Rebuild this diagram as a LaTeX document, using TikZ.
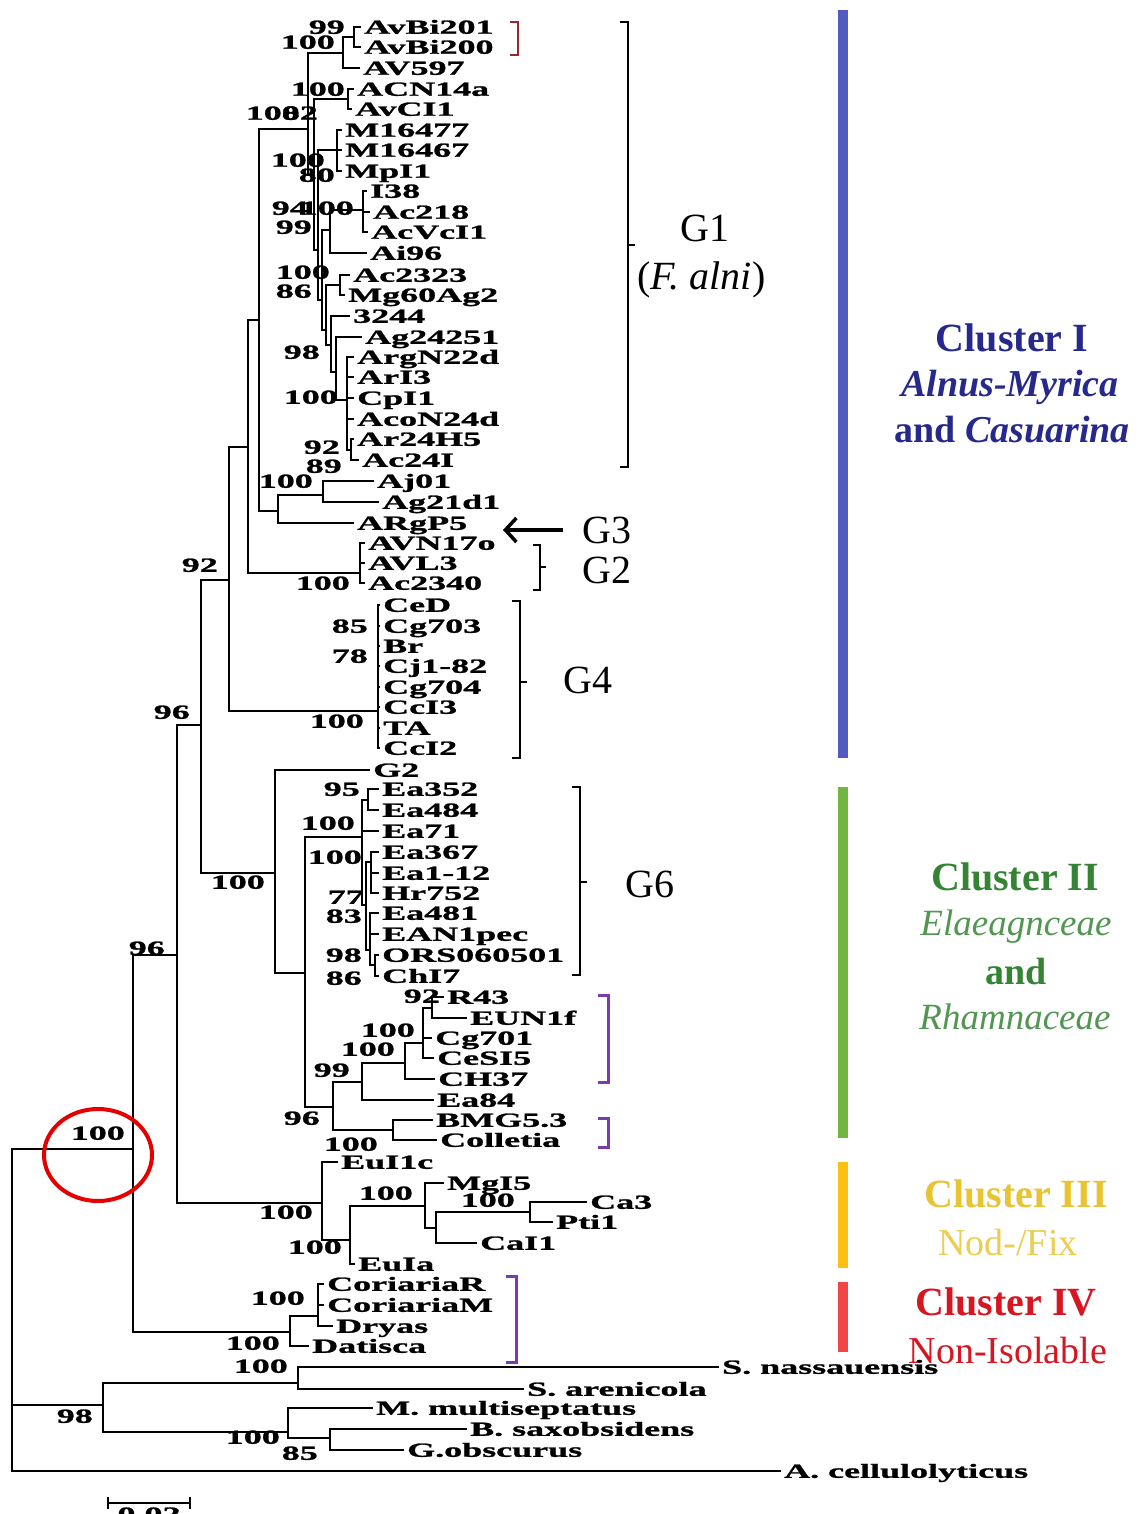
\documentclass[tikz,border=0pt]{standalone}
\usepackage{fontspec}
\setmainfont{Liberation Serif}
\newfontfamily\treefont[FakeStretch=1.8, BoldFeatures={FakeBold=1.3}]{Liberation Serif}
\usetikzlibrary{arrows.meta}

\definecolor{cIbar}{RGB}{82,92,192}
\definecolor{cItxt}{RGB}{38,40,140}
\definecolor{cIIbar}{RGB}{112,182,64}
\definecolor{cIItxt}{RGB}{52,132,52}
\definecolor{cIIIbar}{RGB}{250,192,20}
\definecolor{cIIItxt}{RGB}{232,196,50}
\definecolor{cIVbar}{RGB}{240,70,70}
\definecolor{cIVtxt}{RGB}{214,22,32}
\definecolor{brpurple}{RGB}{122,60,172}
\definecolor{brred}{RGB}{150,40,50}

\tikzset{
  branch/.style={line width=1.8pt},
  leaf/.style={anchor=west, inner xsep=3pt, inner ysep=0pt, text height=13.5pt, text depth=0pt,
    font=\treefont\bfseries\fontsize{20}{22}\selectfont},
  boot/.style={anchor=east, inner sep=0pt, text height=13.5pt, text depth=0pt,
    font=\treefont\bfseries\fontsize{20}{22}\selectfont},
  glabel/.style={inner sep=0pt, font=\fontsize{40}{44}\selectfont},
  clhead/.style={inner sep=0pt, font=\bfseries\fontsize{40}{44}\selectfont},
  clsub/.style={inner sep=0pt, font=\fontsize{38}{42}\selectfont},
  bracket/.style={line width=2.5pt},
  cbar/.style={line width=10pt},
}
\newcommand\tbr[2]{\draw[branch] (#1) |- (#2);}
\newcommand\tlf[2]{\draw[branch] (#1) |- (#2.west);}

\begin{document}
\begin{tikzpicture}[x=1pt,y=-1pt]
\useasboundingbox[fill=white] (0,0) rectangle (1137,1514);

% ---------- internal nodes ----------
\coordinate (r0) at (12,1300);
\coordinate (ing) at (133,1149);
\coordinate (og) at (103,1405);
\coordinate (ogS) at (298,1383);
\coordinate (ogM) at (288,1432);
\coordinate (ogB) at (330,1438);
\coordinate (n177) at (177,955);
\coordinate (n201) at (201,725);
\coordinate (clIII) at (322,1203);
\coordinate (c3a) at (350,1240);
\coordinate (c3b) at (425,1206);
\coordinate (c3c) at (436,1228);
\coordinate (c3d) at (530,1212);
\coordinate (clIV) at (290,1332);
\coordinate (ciA) at (318,1316);
\coordinate (n229) at (229,580);
\coordinate (nB) at (248,447);
\coordinate (nC) at (259,320);
\coordinate (nD) at (278,511);
\coordinate (nAj) at (323,495);
\coordinate (g2) at (360,573);
\coordinate (g4) at (378,711);
\coordinate (g1) at (308,129);
\coordinate (av) at (343,53);
\coordinate (avb) at (354,37);
\coordinate (g1b) at (314,175);
\coordinate (acn) at (348,99);
\coordinate (g1c) at (318,250);
\coordinate (mp) at (337,150);
\coordinate (g1d) at (322,300);
\coordinate (i38) at (330,230);
\coordinate (i38b) at (363,210);
\coordinate (g1e) at (326,330);
\coordinate (ac23) at (340,285);
\coordinate (g1f) at (331,345);
\coordinate (g1g) at (336,372);
\coordinate (g1h) at (347,400);
\coordinate (g1i) at (351,450);
\coordinate (clII) at (275,873);
\coordinate (ea0) at (305,973);
\coordinate (g6) at (362,837);
\coordinate (ea1) at (368,800);
\coordinate (ea2) at (366,905);
\coordinate (ea3) at (371,862);
\coordinate (ea4) at (370,950);
\coordinate (ea5) at (375,965);
\coordinate (n96) at (333,1107);
\coordinate (n99) at (362,1082);
\coordinate (n100c) at (405,1063);
\coordinate (n100d) at (423,1043);
\coordinate (nR) at (432,1008);
\coordinate (n100b) at (393,1130);

% ---------- leaves ----------
\node[leaf] (lAvBi201) at (361,27) {AvBi201};
\node[leaf] (lAvBi200) at (361,47) {AvBi200};
\node[leaf] (lAV597) at (360,68) {AV597};
\node[leaf] (lACN14a) at (354,89) {ACN14a};
\node[leaf] (lAvCI1) at (352,109) {AvCI1};
\node[leaf] (lM16477) at (342,130) {M16477};
\node[leaf] (lM16467) at (342,150) {M16467};
\node[leaf] (lMpI1) at (342,171) {MpI1};
\node[leaf] (lI38) at (367,191) {I38};
\node[leaf] (lAc218) at (370,212) {Ac218};
\node[leaf] (lAcVcI1) at (368,232) {AcVcI1};
\node[leaf] (lAi96) at (367,253) {Ai96};
\node[leaf] (lAc2323) at (350,275) {Ac2323};
\node[leaf] (lMg60Ag2) at (345,295) {Mg60Ag2};
\node[leaf] (l3244) at (350,316) {3244};
\node[leaf] (lAg24251) at (362,337) {Ag24251};
\node[leaf] (lArgN22d) at (354,357) {ArgN22d};
\node[leaf] (lArI3) at (354,377) {ArI3};
\node[leaf] (lCpI1) at (354,398) {CpI1};
\node[leaf] (lAcoN24d) at (354,419) {AcoN24d};
\node[leaf] (lAr24H5) at (354,439) {Ar24H5};
\node[leaf] (lAc24I) at (359,460) {Ac24I};
\node[leaf] (lAj01) at (374,481) {Aj01};
\node[leaf] (lAg21d1) at (379,502) {Ag21d1};
\node[leaf] (lARgP5) at (354,523) {ARgP5};
\node[leaf] (lAVN17o) at (365,543) {AVN17o};
\node[leaf] (lAVL3) at (365,563) {AVL3};
\node[leaf] (lAc2340) at (365,583) {Ac2340};
\node[leaf] (lCeD) at (380,605) {CeD};
\node[leaf] (lCg703) at (380,626) {Cg703};
\node[leaf] (lBr) at (380,646) {Br};
\node[leaf] (lCj182) at (380,666) {Cj1-82};
\node[leaf] (lCg704) at (380,687) {Cg704};
\node[leaf] (lCcI3) at (380,707) {CcI3};
\node[leaf] (lTA) at (380,728) {TA};
\node[leaf] (lCcI2) at (380,748) {CcI2};
\node[leaf] (lG2) at (370,770) {G2};
\node[leaf] (lEa352) at (379,789) {Ea352};
\node[leaf] (lEa484) at (379,810) {Ea484};
\node[leaf] (lEa71) at (379,831) {Ea71};
\node[leaf] (lEa367) at (379,852) {Ea367};
\node[leaf] (lEa112) at (379,873) {Ea1-12};
\node[leaf] (lHr752) at (379,893) {Hr752};
\node[leaf] (lEa481) at (379,913) {Ea481};
\node[leaf] (lEAN1pec) at (379,934) {EAN1pec};
\node[leaf] (lORS) at (379,955) {ORS060501};
\node[leaf] (lChI7) at (379,976) {ChI7};
\node[leaf] (lR43) at (444,997) {R43};
\node[leaf] (lEUN1f) at (467,1018) {EUN1f};
\node[leaf] (lCg701) at (432,1038) {Cg701};
\node[leaf] (lCeSI5) at (434,1058) {CeSI5};
\node[leaf] (lCH37) at (435,1079) {CH37};
\node[leaf] (lEa84) at (434,1100) {Ea84};
\node[leaf] (lBMG) at (433,1120) {BMG5.3};
\node[leaf] (lColletia) at (437,1140) {Colletia};
\node[leaf] (lEuI1c) at (338,1162) {EuI1c};
\node[leaf] (lMgI5) at (444,1183) {MgI5};
\node[leaf] (lCa3) at (587,1202) {Ca3};
\node[leaf] (lPti1) at (553,1222) {Pti1};
\node[leaf] (lCaI1) at (477,1243) {CaI1};
\node[leaf] (lEuIa) at (355,1264) {EuIa};
\node[leaf] (lCorR) at (324,1284) {CoriariaR};
\node[leaf] (lCorM) at (324,1305) {CoriariaM};
\node[leaf] (lDryas) at (333,1326) {Dryas};
\node[leaf] (lDatisca) at (309,1346) {Datisca};
\node[leaf] (lSnas) at (719,1367) {S. nassauensis};
\node[leaf] (lSare) at (524,1389) {S. arenicola};
\node[leaf] (lMmul) at (373,1408) {M. multiseptatus};
\node[leaf] (lBsax) at (467,1429) {B. saxobsidens};
\node[leaf] (lGobs) at (404,1450) {G.obscurus};
\node[leaf] (lAcel) at (781,1471) {A. cellulolyticus};

% ---------- branches ----------
\tbr{r0}{ing} \tbr{r0}{og} \tlf{r0}{lAcel}
\tbr{og}{ogS} \tbr{og}{ogM}
\tlf{ogS}{lSnas} \tlf{ogS}{lSare}
\tlf{ogM}{lMmul} \tbr{ogM}{ogB}
\tlf{ogB}{lBsax} \tlf{ogB}{lGobs}
\tbr{ing}{n177} \tbr{ing}{clIV}
\tbr{clIV}{ciA} \tlf{clIV}{lDatisca}
\tlf{ciA}{lCorR} \tlf{ciA}{lCorM} \tlf{ciA}{lDryas}
\tbr{n177}{n201} \tbr{n177}{clIII}
\tlf{clIII}{lEuI1c} \tbr{clIII}{c3a}
\tbr{c3a}{c3b} \tlf{c3a}{lEuIa}
\tlf{c3b}{lMgI5} \tbr{c3b}{c3c}
\tbr{c3c}{c3d} \tlf{c3c}{lCaI1}
\tlf{c3d}{lCa3} \tlf{c3d}{lPti1}
\tbr{n201}{n229} \tbr{n201}{clII}
\tbr{n229}{nB} \tbr{n229}{g4}
\foreach \lf in {lCeD,lCg703,lBr,lCj182,lCg704,lCcI3,lTA,lCcI2} {\tlf{g4}{\lf}}
\tbr{nB}{nC} \tbr{nB}{g2}
\tlf{g2}{lAVN17o} \tlf{g2}{lAVL3} \tlf{g2}{lAc2340}
\tbr{nC}{g1} \tbr{nC}{nD}
\tbr{nD}{nAj} \tlf{nD}{lARgP5}
\tlf{nAj}{lAj01} \tlf{nAj}{lAg21d1}
\tbr{g1}{av} \tbr{g1}{g1b}
\tbr{av}{avb} \tlf{av}{lAV597}
\tlf{avb}{lAvBi201} \tlf{avb}{lAvBi200}
\tbr{g1b}{acn} \tbr{g1b}{g1c}
\tlf{acn}{lACN14a} \tlf{acn}{lAvCI1}
\tbr{g1c}{mp} \tbr{g1c}{g1d}
\tlf{mp}{lM16477} \tlf{mp}{lM16467} \tlf{mp}{lMpI1}
\tbr{g1d}{i38} \tbr{g1d}{g1e}
\tbr{i38}{i38b} \tlf{i38}{lAi96}
\tlf{i38b}{lI38} \tlf{i38b}{lAc218} \tlf{i38b}{lAcVcI1}
\tbr{g1e}{ac23} \tbr{g1e}{g1f}
\tlf{ac23}{lAc2323} \tlf{ac23}{lMg60Ag2}
\tlf{g1f}{l3244} \tbr{g1f}{g1g}
\tlf{g1g}{lAg24251} \tbr{g1g}{g1h}
\tlf{g1h}{lArgN22d} \tlf{g1h}{lArI3} \tlf{g1h}{lCpI1} \tlf{g1h}{lAcoN24d} \tbr{g1h}{g1i}
\tlf{g1i}{lAr24H5} \tlf{g1i}{lAc24I}
\tlf{clII}{lG2} \tbr{clII}{ea0}
\tbr{ea0}{g6} \tbr{ea0}{n96}
\tbr{g6}{ea1} \tlf{g6}{lEa71} \tbr{g6}{ea2}
\tlf{ea1}{lEa352} \tlf{ea1}{lEa484}
\tbr{ea2}{ea3} \tbr{ea2}{ea4}
\tlf{ea3}{lEa367} \tlf{ea3}{lEa112} \tlf{ea3}{lHr752}
\tlf{ea4}{lEa481} \tlf{ea4}{lEAN1pec} \tbr{ea4}{ea5}
\tlf{ea5}{lORS} \tlf{ea5}{lChI7}
\tbr{n96}{n99} \tbr{n96}{n100b}
\tbr{n99}{n100c} \tlf{n99}{lEa84}
\tbr{n100c}{n100d} \tlf{n100c}{lCH37}
\tbr{n100d}{nR} \tlf{n100d}{lCg701} \tlf{n100d}{lCeSI5}
\tlf{nR}{lR43} \tlf{nR}{lEUN1f}
\tlf{n100b}{lBMG} \tlf{n100b}{lColletia}

% ---------- bootstrap values ----------
\node[boot] (b1) at (345,27) {99};
\node[boot] (b2) at (335,42) {100};
\node[boot] (b3) at (345,89) {100};
\node[boot] (b4) at (300,113) {100};
\node[boot] (b5) at (318,113) {82};
\node[boot] (b6) at (325,160) {100};
\node[boot] (b7) at (335,175) {80};
\node[boot] (b8) at (308,208) {94};
\node[boot] (b9) at (354,208) {100};
\node[boot] (b10) at (312,227) {99};
\node[boot] (b11) at (330,272) {100};
\node[boot] (b12) at (312,291) {86};
\node[boot] (b13) at (320,352) {98};
\node[boot] (b14) at (338,397) {100};
\node[boot] (b15) at (340,447) {92};
\node[boot] (b16) at (342,466) {89};
\node[boot] (b17) at (313,481) {100};
\node[boot] (b18) at (218,565) {92};
\node[boot] (b19) at (350,583) {100};
\node[boot] (b20) at (368,626) {85};
\node[boot] (b21) at (368,656) {78};
\node[boot] (b22) at (364,721) {100};
\node[boot] (b23) at (190,712) {96};
\node[boot] (b24) at (360,789) {95};
\node[boot] (b25) at (355,823) {100};
\node[boot] (b26) at (362,857) {100};
\node[boot] (b27) at (364,897) {77};
\node[boot] (b28) at (362,916) {83};
\node[boot] (b29) at (362,955) {98};
\node[boot] (b30) at (362,978) {86};
\node[boot] (b31) at (265,882) {100};
\node[boot] (b32) at (165,948) {96};
\node[boot] (b33) at (440,996) {92};
\node[boot] (b34) at (415,1030) {100};
\node[boot] (b35) at (395,1049) {100};
\node[boot] (b36) at (350,1070) {99};
\node[boot] (b37) at (320,1118) {96};
\node[boot] (b38) at (378,1144) {100};
\node[boot] (b39) at (125,1133) {100};
\node[boot] (b40) at (413,1193) {100};
\node[boot] (b41) at (515,1200) {100};
\node[boot] (b42) at (313,1212) {100};
\node[boot] (b43) at (342,1247) {100};
\node[boot] (b44) at (305,1298) {100};
\node[boot] (b45) at (280,1343) {100};
\node[boot] (b46) at (288,1366) {100};
\node[boot] (b47) at (93,1416) {98};
\node[boot] (b48) at (280,1437) {100};
\node[boot] (b49) at (318,1453) {85};

% highlighted root support value
\draw[red!90!black, line width=4pt] (98,1155) ellipse [x radius=54, y radius=46];

% ---------- group brackets ----------
\draw[bracket] (620,22) -- (628,22) -- (628,467) -- (620,467);
\draw[bracket] (628,245) -- (635,245);
\draw[bracket, brred] (510,22) -- (518,22) -- (518,55) -- (510,55);
\draw[bracket] (533,545) -- (540,545) -- (540,590) -- (533,590);
\draw[bracket] (540,567) -- (546,567);
\draw[bracket] (512,601) -- (520,601) -- (520,758) -- (512,758);
\draw[bracket] (520,682) -- (527,682);
\draw[bracket] (572,787) -- (580,787) -- (580,975) -- (572,975);
\draw[bracket] (580,882) -- (587,882);
\draw[bracket, brpurple, line width=3pt] (598,995) -- (608,995) -- (608,1082) -- (598,1082);
\draw[bracket, brpurple, line width=3pt] (598,1118) -- (608,1118) -- (608,1147) -- (598,1147);
\draw[bracket, brpurple, line width=3pt] (506,1276) -- (516,1276) -- (516,1362) -- (506,1362);

\node[glabel, anchor=west] (G1) at (680,228) {G1};
\node[glabel, anchor=west] (G1sp) at (637,280) {(\textit{F. alni})};
\node[glabel, anchor=west] (G3) at (582,530) {G3};
\coordinate (g3tip) at (503,530);
\draw[line width=3.5pt, -{Straight Barb[length=11pt,width=24pt,line width=3.5pt]}] (563,530) -- (g3tip);
\node[glabel, anchor=west] (G2lbl) at (582,570) {G2};
\node[glabel, anchor=west] (G4) at (563,680) {G4};
\node[glabel, anchor=west] (G6) at (625,884) {G6};

% ---------- cluster bars and captions ----------
\draw[cbar, cIbar] (843,10) -- (843,758);
\draw[cbar, cIIbar] (843,787) -- (843,1138);
\draw[cbar, cIIIbar] (843,1162) -- (843,1268);
\draw[cbar, cIVbar] (843,1282) -- (843,1352);

\node[clhead, text=cItxt] (cI) at (1012,338) {Cluster I};
\node[clsub, text=cItxt, font=\bfseries\itshape\fontsize{38}{42}\selectfont] (cIa) at (1010,387) {Alnus-Myrica};
\node[clsub, text=cItxt, font=\bfseries\fontsize{38}{42}\selectfont] (cIb) at (1012,430) {and \textit{Casuarina}};

\node[clhead, text=cIItxt] (cII) at (1015,877) {Cluster II};
\node[clsub, text=cIItxt!85, font=\itshape\fontsize{37}{42}\selectfont] (cIIa) at (1016,927) {Elaeagnceae};
\node[clsub, text=cIItxt, font=\bfseries\fontsize{38}{42}\selectfont] (cIIb) at (1016,971) {and};
\node[clsub, text=cIItxt!85, font=\itshape\fontsize{37}{42}\selectfont] (cIIc) at (1015,1017) {Rhamnaceae};

\node[clhead, text=cIIItxt] (cIII) at (1016,1194) {Cluster III};
\node[clsub, text=cIIItxt!85] (cIIIa) at (1008,1242) {Nod-/Fix};

\node[clhead, text=cIVtxt] (cIV) at (1006,1302) {Cluster IV};
\node[clsub, text=cIVtxt] (cIVa) at (1008,1350) {Non-Isolable};

% ---------- scale bar ----------
\coordinate (sb1) at (108,1503);
\coordinate (sb2) at (190,1503);
\draw[line width=1.6pt] (sb1) -- (sb2);
\draw[line width=1.6pt] ([yshift=-6pt]sb1) -- ([yshift=6pt]sb1);
\draw[line width=1.6pt] ([yshift=-6pt]sb2) -- ([yshift=6pt]sb2);
\node[boot, anchor=north] (sblbl) at (149,1507) {0.02};
\end{tikzpicture}
\end{document}
